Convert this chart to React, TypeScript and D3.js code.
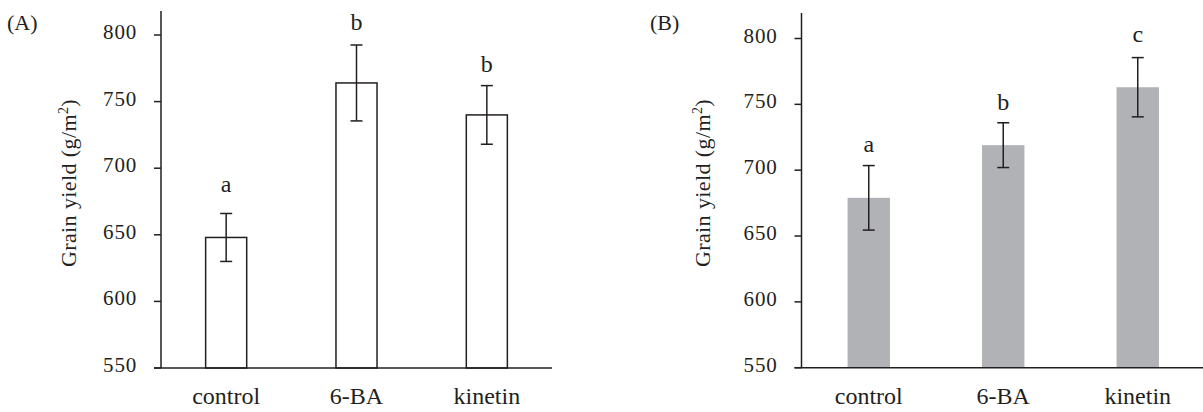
import * as d3 from 'd3';

// treatments on the x axis
const categories = ['control', '6-BA', 'kinetin'];
const yTicks = [550, 600, 650, 700, 750, 800];

// panel (A)
const yieldA = [648, 764, 740];
const errA = [18, 28.5, 22];
const lettersA = ['a', 'b', 'b'];
const letterAtA = [682, 804, 772];

// panel (B)
const yieldB = [679, 719, 763];
const errB = [24.5, 17, 22.5];
const lettersB = ['a', 'b', 'c'];
const letterAtB = [714, 746, 797];

const ink = '#231f20';
const font = '"Liberation Serif", "Times New Roman", serif';

type PanelProps = {
  tag: string;
  tagX: number;
  values: number[];
  errors: number[];
  letters: string[];
  letterAt: number[];
  x0: number;
  x1: number;
  yBottom: number;
  yTop: number;
  axisTop: number;
  titleX: number;
  filled: boolean;
};

const Panel = (p: PanelProps) => {
  const x = d3.scaleBand<string>()
    .domain(categories)
    .range([p.x0, p.x1])
    .paddingInner(0.685)
    .paddingOuter(0.3425);
  const y = d3.scaleLinear().domain([550, 800]).range([p.yBottom, p.yTop]);
  const bw = x.bandwidth();
  const cap = 6;

  return (
    <g>
      <text x={p.tagX} y={30} fontSize={22} fill={ink}>{p.tag}</text>

      {/* bars */}
      {categories.map((c, i) => (
        <rect
          key={c}
          x={x(c)}
          y={y(p.values[i])}
          width={bw}
          height={y(550) - y(p.values[i])}
          fill={p.filled ? '#b1b2b6' : '#fff'}
          stroke={p.filled ? 'none' : ink}
          strokeWidth={1.5}
        />
      ))}

      {/* error bars */}
      {categories.map((c, i) => {
        const cx = (x(c) as number) + bw / 2;
        const hi = y(p.values[i] + p.errors[i]);
        const lo = y(p.values[i] - p.errors[i]);
        return (
          <g key={c} stroke={ink} strokeWidth={1.5}>
            <line x1={cx} x2={cx} y1={hi} y2={lo} />
            <line x1={cx - cap} x2={cx + cap} y1={hi} y2={hi} />
            <line x1={cx - cap} x2={cx + cap} y1={lo} y2={lo} />
          </g>
        );
      })}

      {/* significance letters */}
      {categories.map((c, i) => (
        <text
          key={c}
          x={(x(c) as number) + bw / 2}
          y={y(p.letterAt[i])}
          textAnchor="middle"
          fontSize={24}
          fill={ink}
        >
          {p.letters[i]}
        </text>
      ))}

      {/* y axis */}
      <line x1={p.x0} x2={p.x0} y1={p.axisTop} y2={y(550)} stroke={ink} strokeWidth={1.5} />
      {yTicks.map(t => (
        <g key={t}>
          <line x1={p.x0 - 7} x2={p.x0} y1={y(t)} y2={y(t)} stroke={ink} strokeWidth={1.5} />
          <text
            x={p.x0 - 24}
            y={y(t) + 4}
            textAnchor="end"
            fontSize={21}
            letterSpacing={0.8}
            fill={ink}
          >
            {t}
          </text>
        </g>
      ))}

      {/* x axis */}
      <line x1={p.x0 - 7} x2={p.x1} y1={y(550)} y2={y(550)} stroke={ink} strokeWidth={1.5} />
      {categories.map(c => (
        <text
          key={c}
          x={(x(c) as number) + bw / 2}
          y={404}
          textAnchor="middle"
          fontSize={24}
          fill={ink}
        >
          {c}
        </text>
      ))}

      <text
        transform={`translate(${p.titleX}, 183) rotate(-90)`}
        textAnchor="middle"
        fontSize={22}
        letterSpacing={0.4}
        fill={ink}
      >
        Grain yield (g/m<tspan dy={-8} fontSize={14}>2</tspan><tspan dy={8}>)</tspan>
      </text>
    </g>
  );
};

export default function App() {
  return (
    <svg
      width={1203}
      height={412}
      style={{ position: 'absolute', left: 0, top: 0, background: '#fff' }}
      fontFamily={font}
    >
      <Panel
        tag="(A)" tagX={7}
        values={yieldA} errors={errA} letters={lettersA} letterAt={letterAtA}
        x0={161} x1={552} yBottom={368} yTop={35} axisTop={11}
        titleX={76} filled={false}
      />
      <Panel
        tag="(B)" tagX={650}
        values={yieldB} errors={errB} letters={lettersB} letterAt={letterAtB}
        x0={801.5} x1={1205} yBottom={367.7} yTop={38.5} axisTop={13}
        titleX={710} filled={true}
      />
    </svg>
  );
}
